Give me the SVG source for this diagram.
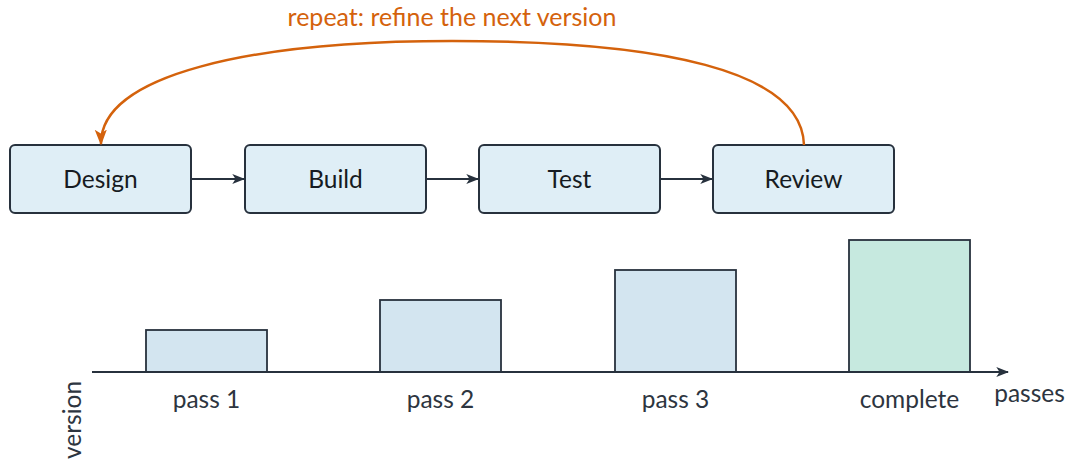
<svg xmlns="http://www.w3.org/2000/svg" width="1068" height="459" viewBox="0 0 1068 459">
  <style>
    .node rect { fill: #dfeef6; stroke: #27313d; stroke-width: 2; }
    .node text { font-family: Lato, "Open Sans", sans-serif; font-size: 24.5px; fill: #161b22; text-anchor: middle; }
    .flow { stroke: #27313d; stroke-width: 2; fill: none; }
    .loop { stroke: #d4620c; stroke-width: 2.5; fill: none; }
    .bar { stroke: #27313d; stroke-width: 1.8; }
    .axis-label { font-family: Lato, "Open Sans", sans-serif; font-size: 24.5px; fill: #2d3540; text-anchor: middle; }
    .loop-label { font-family: Lato, "Open Sans", sans-serif; font-size: 25px; fill: #d4620c; text-anchor: middle; }
  </style>
  <defs>
    <marker id="arrow-dark" viewBox="0 0 10 10" refX="9" refY="5" markerWidth="13" markerHeight="13" markerUnits="userSpaceOnUse" orient="auto">
      <path d="M0,1.2 L10,5 L0,8.8 L2.5,5 Z" fill="#27313d"/>
    </marker>
    <marker id="arrow-orange" viewBox="0 0 10 10" refX="9" refY="5" markerWidth="16" markerHeight="16" markerUnits="userSpaceOnUse" orient="auto">
      <path d="M0,1.2 L10,5 L0,8.8 L2.5,5 Z" fill="#d4620c"/>
    </marker>
  </defs>

  <!-- loop label -->
  <text class="loop-label" x="452" y="26">repeat: refine the next version</text>

  <!-- process nodes -->
  <g id="node-design" class="node">
    <rect x="10" y="145" width="181" height="68" rx="5"/>
    <text x="100.5" y="188">Design</text>
  </g>
  <g id="node-build" class="node">
    <rect x="245" y="145" width="181" height="68" rx="5"/>
    <text x="335.5" y="188">Build</text>
  </g>
  <g id="node-test" class="node">
    <rect x="479" y="145" width="181" height="68" rx="5"/>
    <text x="569.5" y="188">Test</text>
  </g>
  <g id="node-review" class="node">
    <rect x="713" y="145" width="181" height="68" rx="5"/>
    <text x="803.5" y="188">Review</text>
  </g>

  <!-- connectors -->
  <g id="connectors">
    <path class="flow" d="M191,179 L244,179" marker-end="url(#arrow-dark)"/>
    <path class="flow" d="M426,179 L478,179" marker-end="url(#arrow-dark)"/>
    <path class="flow" d="M660,179 L712,179" marker-end="url(#arrow-dark)"/>
    <path class="loop" d="M804,145 C802,70 660,41 452,41 C250,41 100,75 101,144" marker-end="url(#arrow-orange)"/>
  </g>

  <!-- version chart -->
  <g id="chart">
    <rect class="bar" x="146" y="330" width="121" height="42" fill="#d3e5f0"/>
    <rect class="bar" x="380" y="300" width="121" height="72" fill="#d3e5f0"/>
    <rect class="bar" x="615" y="270" width="121" height="102" fill="#d3e5f0"/>
    <rect class="bar" x="849" y="240" width="121" height="132" fill="#c6e9df"/>
    <path class="flow" d="M92,372 L1008,372" marker-end="url(#arrow-dark)"/>
    <text class="axis-label" x="206.5" y="408">pass 1</text>
    <text class="axis-label" x="440.5" y="408">pass 2</text>
    <text class="axis-label" x="675.5" y="408">pass 3</text>
    <text class="axis-label" x="909.5" y="408">complete</text>
    <text class="axis-label" x="1029.5" y="402">passes</text>
    <text class="axis-label" transform="translate(81,420) rotate(-90)" x="0" y="0">version</text>
  </g>
</svg>
